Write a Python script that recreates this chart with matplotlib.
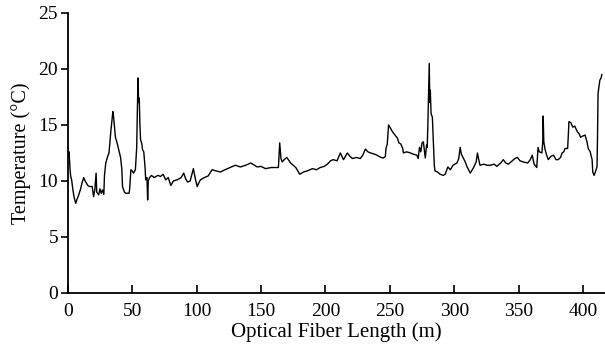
import numpy as np
import matplotlib
matplotlib.use("Agg")
import matplotlib.pyplot as plt

# ---------- フォント設定 ----------
plt.rcParams['font.family'] = ['Liberation Serif', 'DejaVu Serif']
plt.rcParams['mathtext.fontset'] = 'stix'

# ---------- データ ----------
fiber_length = [
    0, 0.5, 1, 1.8, 2.3, 3, 4, 5, 6.2, 7, 8.5, 10, 11, 12.4, 13.5, 15.5, 17, 19,
    20, 21, 22, 22.5, 24, 25, 26, 27, 28, 28.5, 29.5, 31, 32, 33.5, 35, 35.5, 37,
    38.5, 40, 41, 42, 42.5, 44, 45, 47.5, 48, 49, 50, 51, 52.5, 53.5, 54.5, 55,
    55.5, 56, 56.5, 57.5, 58, 59, 60, 60.5, 61.5, 62, 62.5, 63.5, 65, 67, 70, 72,
    74, 76, 78, 80, 82, 85, 88, 90, 91.5, 93, 95, 97.5, 99, 100.5, 102, 103, 106,
    109, 112, 115, 118.5, 122, 126, 130, 134, 138, 142, 145, 147, 150, 153.5, 158,
    163.5, 164.5, 165.5, 166.5, 168, 170, 173, 175, 177, 180, 183, 186, 190, 193,
    196, 199, 201.5, 204, 206, 209, 211.6, 214, 217, 219, 221, 224, 227, 229, 231,
    233, 235, 238, 240, 243, 245, 246.5, 247, 248, 249, 250.5, 252, 254, 256, 257,
    258.5, 260, 260.5, 263, 266, 268, 271, 272, 273, 274, 275, 276, 277.5, 278.5,
    279, 279.5, 280.6, 281, 281.4, 282, 283, 283.7, 284.5, 285, 287, 289, 291.5,
    293, 295, 297, 299, 302, 303.5, 304.6, 305.5, 307, 308.5, 310, 312.4, 314, 315,
    317, 318, 319, 320, 323, 325.5, 328, 331, 333, 336, 338, 340, 342, 345, 347,
    349, 351, 353.5, 357, 359, 360.5, 362, 364, 364.5, 365, 366, 368, 368.7, 369,
    369.5, 370.5, 372, 373, 375, 377, 379, 380.6, 382.5, 383.7, 385, 386, 388,
    388.5, 389, 390.5, 392, 393.5, 395.5, 397, 398, 399.5, 401.5, 403, 404, 405.5,
    407, 407.5, 408.5, 409.5, 410.8, 411.2, 411.6, 413, 414, 414.5,
]
temperature = [
    12.8, 12.2, 12.6, 11.0, 10.4, 10.1, 9.2, 8.5, 8.0, 8.3, 8.75, 9.3, 9.8, 10.3,
    10.0, 9.6, 9.5, 9.5, 8.6, 9.2, 10.7, 9.0, 8.75, 9.3, 8.9, 9.2, 8.8, 10.5, 11.6,
    12.2, 12.5, 14.5, 16.2, 15.8, 13.9, 13.3, 12.6, 12.1, 11.0, 9.5, 9.0, 8.9, 8.9,
    9.2, 11.0, 10.9, 10.7, 11.0, 13.0, 19.2, 17.0, 17.4, 15.0, 13.7, 13.3, 12.8,
    12.6, 11.2, 10.1, 10.3, 8.3, 10.0, 10.3, 10.5, 10.3, 10.5, 10.4, 10.6, 10.1,
    10.3, 9.6, 10.0, 10.1, 10.3, 10.7, 10.2, 9.9, 10.0, 11.1, 10.2, 9.5, 9.9, 10.1,
    10.3, 10.45, 11.0, 10.9, 10.8, 11.0, 11.2, 11.4, 11.25, 11.4, 11.6, 11.4,
    11.25, 11.3, 11.1, 11.2, 11.2, 13.4, 12.0, 11.7, 11.9, 12.1, 11.6, 11.4, 11.2,
    10.6, 10.8, 10.9, 11.1, 11.0, 11.2, 11.3, 11.5, 11.8, 11.9, 11.8, 12.5, 11.9,
    12.5, 12.2, 12.0, 12.1, 12.0, 12.3, 12.85, 12.6, 12.5, 12.4, 12.3, 12.1, 12.05,
    12.2, 12.9, 13.3, 15.0, 14.7, 14.4, 14.1, 13.8, 13.4, 13.3, 12.9, 12.5, 12.6,
    12.5, 12.4, 12.3, 12.0, 13.0, 12.6, 13.4, 13.5, 12.05, 13.2, 13.0, 15.0, 20.5,
    17.0, 18.1, 16.0, 15.7, 13.7, 11.4, 10.9, 10.8, 10.6, 10.5, 10.6, 11.25, 11.0,
    11.4, 11.6, 12.0, 13.0, 12.4, 12.05, 11.7, 11.25, 10.7, 11.0, 11.2, 11.7, 12.5,
    11.9, 11.4, 11.5, 11.4, 11.4, 11.5, 11.3, 11.6, 11.9, 11.6, 11.5, 11.8, 12.0,
    12.1, 11.8, 11.7, 11.6, 11.9, 12.3, 11.5, 11.2, 12.0, 13.0, 12.6, 12.5, 13.5,
    15.8, 13.5, 12.8, 12.2, 11.9, 12.2, 12.3, 11.9, 11.9, 12.1, 12.5, 12.6, 12.9,
    12.9, 14.0, 15.3, 15.2, 14.8, 14.9, 14.4, 14.2, 13.9, 14.0, 14.1, 13.5, 12.9,
    12.6, 11.9, 10.8, 10.5, 10.8, 11.25, 14.0, 17.8, 19.0, 19.2, 19.5,
]
x_ticks = [0, 50, 100, 150, 200, 250, 300, 350, 400]
y_ticks = [0, 5, 10, 15, 20, 25]

# ---------- プロット ----------
fig = plt.figure(figsize=(6.05, 3.5), dpi=100)
ax = fig.add_axes([0.112, 0.163, 0.888, 0.8])

ax.plot(fiber_length, temperature, color='black', linewidth=1.0)

ax.set_xlim(0, 417)
ax.set_ylim(0, 25)
ax.set_xticks(x_ticks)
ax.set_yticks(y_ticks)

ax.spines['top'].set_visible(False)
ax.spines['right'].set_visible(False)
ax.spines['left'].set_linewidth(1.3)
ax.spines['bottom'].set_linewidth(1.3)

ax.tick_params(axis='x', direction='in', length=6, width=1.2, labelsize=14, pad=7)
ax.tick_params(axis='y', direction='out', length=5, width=1.2, labelsize=14, pad=2)

ax.set_xlabel("Optical Fiber Length (m)", fontsize=15, labelpad=2)
ax.set_ylabel("Temperature (°C)", fontsize=14.5, labelpad=5)

plt.savefig("out.png", dpi=100)
